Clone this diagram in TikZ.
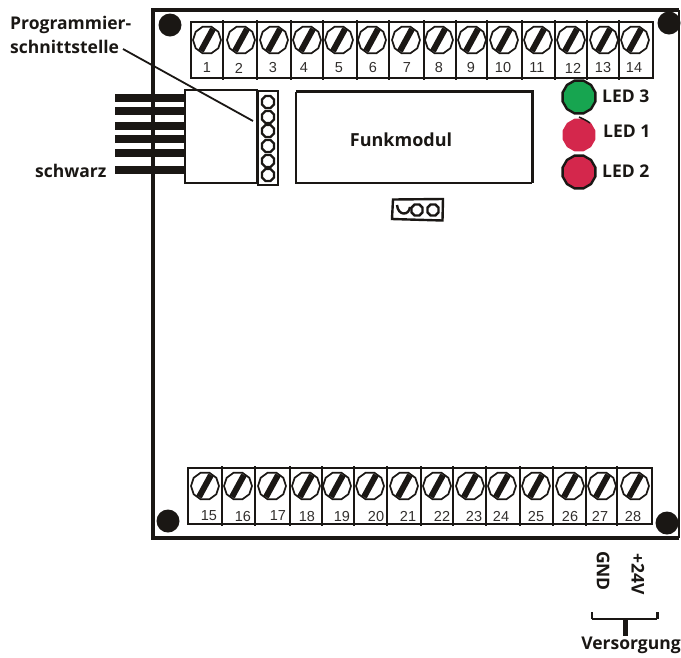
\documentclass[tikz,border=0pt]{standalone}
\usepackage{fontspec}
\setmainfont{Liberation Sans}
\newfontfamily\lblfont{Open Sans}
\usetikzlibrary{shapes.geometric}
\definecolor{inkdark}{HTML}{1A1714}
\definecolor{ledgreen}{HTML}{17A550}
\definecolor{ledred}{HTML}{D4274C}
\tikzset{
 x=1pt,y=-1pt,
 ink/.style={draw=inkdark},
 cell/.style={draw=inkdark,line width=1.3pt},
 screwhead/.style={regular polygon,regular polygon sides=10,draw=inkdark,line width=1.7pt,minimum size=28pt,inner sep=0pt,fill=white},
 screwslot/.style={draw=inkdark,line width=6pt},
 num/.style={inner sep=0pt,font=\fontsize{14.5}{15}\selectfont,text=inkdark!90},
 lbl/.style={inner sep=0pt,font=\lblfont\bfseries\fontsize{17.5}{18}\selectfont,text=inkdark},
 pin/.style={regular polygon,regular polygon sides=8,draw=inkdark,line width=2.4pt,minimum size=13pt,inner sep=0pt,fill=white},
 hole/.style={circle,fill=inkdark,minimum size=23pt,inner sep=0pt},
 wire/.style={draw=inkdark,line width=8pt},
 led/.style={regular polygon,regular polygon sides=12,minimum size=34pt,inner sep=0pt,line width=2.4pt},
}
\begin{document}
\begin{tikzpicture}
\useasboundingbox (0,0) rectangle (681,657);
% wires
\coordinate (boxw1) at (185,98);\coordinate (boxw2) at (185,111);\coordinate (boxw3) at (185,126);
\coordinate (boxw4) at (185,139);\coordinate (boxw5) at (185,153);\coordinate (boxw6) at (185,170);
\coordinate (wl1) at (115,98);\coordinate (wl2) at (115,111);\coordinate (wl3) at (115,126);
\coordinate (wl4) at (115,139);\coordinate (wl5) at (115,153);\coordinate (wl6) at (115,170);
\foreach \i in {1,...,6}{\draw[wire] (wl\i) -- (boxw\i);}
% board
\draw[ink,line width=1.5pt] (679,10) -- (679,538);
\draw[ink,line width=3.2pt] (679,10) -- (153,10) -- (153,538) -- (679,538);
% holes
\node[hole] (h1) at (170,25) {};
\node[hole] (h2) at (669,23) {};
\node[hole] (h3) at (168,521) {};
\node[hole] (h4) at (667,523) {};
% top terminals
\draw[cell] (191,22) rectangle (653,78);
\foreach \x in {223,257,291,323,357,389,424,456,487,522,555,587,619}{\draw[cell] (\x,20) -- (\x,80);}
\foreach \n/\x/\lx in {1/207/207,2/241/239,3/274/273,4/307/304,5/339/339,6/372/373,7/406/407,8/439/439,9/472/471,10/504/503,11/538/537,12/571/573,13/604/603,14/635/634}{
 \node[screwhead] (st\n) at (\x,40) {};
 \draw[screwslot] (\x+6,29) -- (\x-6,51);
 \node[num] (lt\n) at (\lx,68) {\n};
}
% bottom terminals
\draw[cell] (188,468) rectangle (652,524);
\foreach \x in {222,255,290,322,354,387,421,453,486,520,553,586,617}{\draw[cell] (\x,466) -- (\x,526);}
\foreach \n/\x/\lx in {15/205/209,16/238/243,17/272/278,18/306/307,19/337/342,20/370/376,21/404/408,22/437/442,23/470/474,24/502/501,25/536/536,26/570/570,27/602/600,28/635/633}{
 \node[screwhead] (sb\n) at (\x,486) {};
 \draw[screwslot] (\x+6,475) -- (\x-6,497);
 \node[num] (lb\n) at (\lx,516) {\n};
}
% connector box and header
\node[draw=inkdark,line width=2.4pt,fill=white,minimum width=72pt,minimum height=93pt,inner sep=0pt] (conn) at (221,136.5) {};
\node[draw=inkdark,line width=2.8pt,fill=white,minimum width=20pt,minimum height=94pt,inner sep=0pt] (hdr) at (268,138) {};
\foreach \i/\y in {1/102,2/117,3/131,4/146,5/161,6/175}{\node[pin] (p\i) at (268,\y) {};}
% radio module
\node[minimum width=236pt,minimum height=91pt,inner sep=0pt] (funk) at (414,137.5) {};
\draw[ink,line width=1.5pt] (funk.north west) -- (funk.south west) -- (funk.south east);
\draw[ink,line width=3pt] (funk.north west) -- (funk.north east) -- (funk.south east);
\node[lbl,font=\lblfont\bfseries\fontsize{18}{19}\selectfont] (funktxt) at (401,140) {Funkmodul};
% jumper
\draw[ink,line width=2.4pt] (393,199.5) -- (443,199) -- (442.5,220.5) -- (392,219) -- cycle;
\node[pin,minimum size=12pt] (j2) at (417,210) {};
\node[pin,minimum size=12pt] (j3) at (433,210) {};
\draw[ink,line width=2.4pt] (397,205) .. controls (398,216) and (409,216) .. (410,207);
% LEDs
\node[led,draw=inkdark,fill=ledgreen] (led3) at (579,97) {};
\node[led,fill=ledred] (led1) at (579,135) {};
\draw[ink,line width=1.5pt] (579,117) .. controls (583,119) and (586,120) .. (590,123);
\node[led,draw=inkdark,fill=ledred] (led2) at (579,172) {};
\node[lbl,anchor=west] (t3) at (602,96) {LED 3};
\node[lbl,anchor=west] (t1) at (603,131) {LED 1};
\node[lbl,anchor=west] (t2) at (602,171) {LED 2};
% texts
\node[lbl,anchor=west] (prog) at (10,25) {Programmier-};
\node[lbl,anchor=west] (schn) at (10,47) {schnittstelle};
\node[lbl,anchor=west] (schw) at (35,171) {schwarz};
\coordinate (la) at (123,49);\coordinate (lb) at (253,121);
\draw[ink,line width=1.8pt] (la) -- (lb);
% supply
\node[lbl,rotate=-90] (gnd) at (603,571) {GND};
\node[lbl,rotate=-90] (v24) at (638,574) {+24V};
\coordinate (bl) at (592,619);\coordinate (br) at (657,619);\coordinate (bm) at (625,619);
\draw[ink,line width=1.3pt] (bl) -- (br);
\draw[ink,line width=2pt] (bl) -- ++(0,-7);
\draw[ink,line width=3pt] (br) -- ++(0,-7);
\node[lbl] (vers) at (631,645) {Versorgung};
\draw[ink,line width=5pt] (bm) -- (vers.north -| bm);
\end{tikzpicture}
\end{document}
